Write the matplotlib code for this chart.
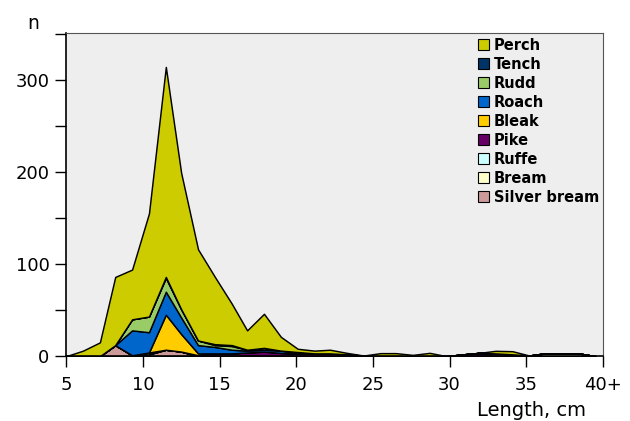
import matplotlib; matplotlib.use("Agg"); import matplotlib.pyplot as plt
from matplotlib.patches import Patch
from matplotlib.ticker import MultipleLocator
import numpy as np

plt.rcParams['font.family'] = ['DejaVu Sans']

# length classes (cm) and catch per species, stacked from the bottom up
length = [5.0, 6.1, 7.2, 8.2, 9.3, 10.4, 11.5, 12.5, 13.6, 14.7, 15.8, 16.8, 17.9, 19.0, 20.1, 21.2, 22.2,
          23.3, 24.4, 25.5, 26.5, 27.6, 28.7, 29.8, 30.8, 31.9, 33.0, 34.1, 35.2, 36.2, 37.3, 38.4, 39.5]
silver_bream = [0, 0, 0, 12, 1, 2, 7, 5, 0, 0, 0, 0, 0, 0, 0, 0, 0, 0, 0, 0, 0, 0, 0, 0, 0, 0, 0, 0, 0, 0, 0, 0, 0]
bream        = [0, 0, 0, 0, 0, 0, 0, 0, 0, 0, 0, 0, 0, 0, 0, 0, 0, 0, 0, 0, 0, 0, 0, 0, 0, 0, 0, 0, 0, 3, 3, 3, 0]
ruffe        = [0, 0, 0, 0, 0, 2, 0, 0, 0, 0, 0, 1, 0, 0, 0, 0, 0, 0, 0, 0, 0, 0, 0, 0, 0, 0, 0, 0, 0, 0, 0, 0, 0]
pike         = [0, 0, 0, 0, 0, 0, 0, 0, 1, 3, 3, 3, 5, 3.5, 3, 3, 3, 2, 0.5, 0, 0, 0, 0, 0, 1.8, 3.5, 3, 2, 0.7, 0, 0, 0, 0]
bleak        = [0, 0, 0, 0, 0, 0, 38, 19, 2, 0, 0, 0, 0, 0, 0, 0, 0, 0, 0, 0, 0, 0, 0, 0, 0, 0, 0, 0, 0, 0, 0, 0, 0]
roach        = [0, 0, 0, 0, 27, 22, 25, 18, 9, 7, 4, 2, 2, 2.5, 1.5, 0, 0, 0, 0, 0, 0, 0, 0, 0, 0, 0, 0, 0, 0, 0, 0, 0, 0]
rudd         = [0, 0, 0, 0, 12, 17, 15, 9, 5, 2, 4, 1, 2, 0, 0, 0, 0, 0, 0, 0, 0, 0, 0, 0, 0, 0, 0, 0, 0, 0, 0, 0, 0]
tench        = [0, 0, 0, 0, 0, 0, 1, 0, 0, 1, 1, 0, 0, 0, 0, 0, 0, 0, 0, 0, 0, 0, 0, 0, 0, 0, 0, 0, 0, 0, 0, 0, 0]
perch        = [0, 6, 15, 74, 54, 112, 228, 148, 99, 73, 45, 21, 37, 15, 3.5, 3, 4, 1.6, 0.2, 3.3, 3.3, 1.4, 3.6, 0, 0, 0, 2.8, 3.4, 0, 0, 0, 0, 0]

species = ['Silver bream', 'Bream', 'Ruffe', 'Pike', 'Bleak', 'Roach', 'Rudd', 'Tench', 'Perch']
colors = ['#cc9999', '#ffffcc', '#ccffff', '#660066', '#ffcc00', '#0066cc', '#99cc66', '#003366', '#cccc00']
series = [silver_bream, bream, ruffe, pike, bleak, roach, rudd, tench, perch]

xticks = [5, 10, 15, 20, 25, 30, 35, 40]
xlabels = ['5', '10', '15', '20', '25', '30', '35', '40+']

fig = plt.figure(figsize=(6.3, 4.21), dpi=100); fig.patch.set_facecolor('white')
ax = fig.add_axes([0.105, 0.154, 0.852, 0.768])
ax.set_facecolor('#eeeeee')
ax.stackplot(length, *series, colors=colors, edgecolor='black', linewidth=1.05)
ax.set_xlim(5, 40); ax.set_ylim(0, 351)
ax.set_xticks(xticks); ax.set_xticklabels(xlabels)
ax.yaxis.set_major_locator(MultipleLocator(100)); ax.yaxis.set_minor_locator(MultipleLocator(50))
ax.tick_params(axis='both', which='both', direction='out', length=8, width=1, labelsize=13)
ax.tick_params(axis='x', which='minor', length=0)
ax.tick_params(axis='x', pad=6); ax.tick_params(axis='y', pad=4)
for s in ['left', 'bottom']: ax.spines[s].set_linewidth(1.2)
for s in ['top', 'right']: ax.spines[s].set_color('#555555')

handles = [Patch(facecolor=c, edgecolor='black', linewidth=0.8) for c in colors][::-1]
ax.legend(handles, species[::-1], loc='upper left', bbox_to_anchor=(0.746, 1.021), frameon=False,
          handlelength=0.75, handleheight=0.75, handletextpad=0.3, labelspacing=0.275, borderpad=0.3,
          prop=dict(family=['DejaVu Sans'], weight='bold', size=10.5))

fig.text(0.052, 0.945, 'n', fontsize=13.5, ha='center', va='center')
fig.text(0.93, 0.003, 'Length, cm', fontsize=14, ha='right', va='bottom')
fig.savefig('out.png', dpi=100, facecolor='white')
